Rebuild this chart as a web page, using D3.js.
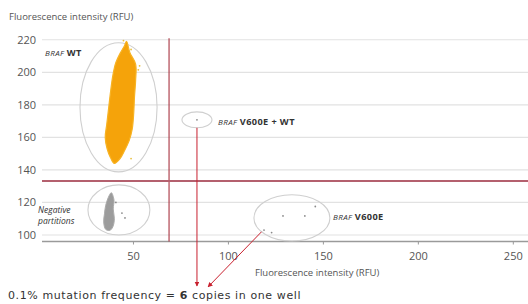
<!DOCTYPE html>
<html>
<head>
<meta charset="utf-8">
<script src="https://cdn.jsdelivr.net/npm/d3@7"></script>
<style>
  body { margin: 0; background: #fff; }
  svg { display: block; font-family: "Open Sans", sans-serif; }
</style>
</head>
<body>
<svg width="528" height="304"></svg>
<script>
// tick values
const xTicks = [50, 100, 150, 200, 250];
const yTicks = [100, 120, 140, 160, 180, 200, 220];

// dense clusters, read as outlines (RFU ch1, RFU ch2)
const wtOutline = [[46.6,219],[48.4,212],[51.4,205],[51.4,195],[50.8,185],[50.4,175],[49.6,165],[48,158],[45.6,152],
  [43.2,147],[40.2,144],[38.2,147.5],[36.4,153],[35.4,160],[36.2,168],[37.2,178],[38.2,188],[39.4,198],[41,206],[43.4,212],[45.4,216]];
const negOutline = [[38.6,126],[40,121.5],[39.6,116],[40.2,110],[39.4,105],[37.8,102.8],[35.6,103.5],[34.6,108],
  [35,113],[35.6,118],[37,123]];

// sparse droplets
const wtStray = [[52.8,201.5],[49,214],[53.5,204],[45,219.5],[49,147]];
const negStray = [[44.2,113.5],[45.8,110.5],[41,120]];
const mixedPoints = [[83.7,170.8]];
const mutPoints = [[129,111.7],[140.5,111.7],[146,117.5],[123,101.5],[119,103]];

// thresholds
const thresholdX = 69;
const thresholdY = 133.2;

// rings round each cluster (centre, radii in RFU)
const clusterRings = [
  {cx: 42.4, cy: 178.5, rx: 20.3, ry: 39.7},
  {cx: 42.6, cy: 115.4, rx: 16.3, ry: 15.4},
  {cx: 83.7, cy: 170.8, rx: 7.9, ry: 4.9},
  {cx: 133.7, cy: 110.5, rx: 20, ry: 14.2}
];

const svg = d3.select("svg");
const x = d3.scaleLinear().domain([0, 258]).range([38, 528]);
const y = d3.scaleLinear().domain([96, 226]).range([241.5, 30]);

// grid
svg.append("g").selectAll("line")
  .data(yTicks)
  .join("line")
  .attr("x1", 42).attr("x2", 528)
  .attr("y1", d => y(d)).attr("y2", d => y(d))
  .attr("stroke", "#e2e2e2").attr("stroke-width", 1.2);

// y labels
svg.append("g").selectAll("text")
  .data(yTicks)
  .join("text")
  .attr("x", 36).attr("y", d => y(d) + 4)
  .attr("text-anchor", "end")
  .attr("font-size", 11).attr("fill", "#555")
  .text(d => d);

// x axis
const xAxis = svg.append("g")
  .attr("transform", "translate(0," + y(96) + ")")
  .call(d3.axisBottom(x).tickValues(xTicks).tickSize(3).tickPadding(8));
xAxis.select(".domain").attr("stroke", "#9a9a9a").attr("stroke-width", 1.6)
  .attr("d", "M42,0H528");
xAxis.selectAll(".tick line").attr("stroke", "#999");
xAxis.selectAll(".tick text").attr("font-size", 11).attr("fill", "#555")
  .attr("font-family", "Open Sans, sans-serif");

svg.append("text")
  .attr("x", 255).attr("y", 276)
  .attr("font-size", 9.5).attr("fill", "#555")
  .text("Fluorescence intensity (RFU)");
svg.append("text")
  .attr("x", 9).attr("y", 20)
  .attr("font-size", 9.5).attr("fill", "#555")
  .text("Fluorescence intensity (RFU)");

// thresholds
svg.append("line")
  .attr("x1", x(thresholdX)).attr("x2", x(thresholdX))
  .attr("y1", y(221)).attr("y2", y(96))
  .attr("stroke", "#a8323f").attr("stroke-width", 1.1);
svg.append("line")
  .attr("x1", 42).attr("x2", 528)
  .attr("y1", y(thresholdY)).attr("y2", y(thresholdY))
  .attr("stroke", "#b4606e").attr("stroke-width", 1.8);

// rings
svg.append("g").selectAll("ellipse")
  .data(clusterRings)
  .join("ellipse")
  .attr("cx", d => x(d.cx)).attr("cy", d => y(d.cy))
  .attr("rx", d => x(d.cx + d.rx) - x(d.cx))
  .attr("ry", d => y(d.cy) - y(d.cy + d.ry))
  .attr("fill", "none").attr("stroke", "#cfcfcf").attr("stroke-width", 1.1);

// clusters
const outline = d3.line().x(d => x(d[0])).y(d => y(d[1])).curve(d3.curveCatmullRomClosed);
svg.append("path").datum(wtOutline).attr("d", outline)
  .attr("fill", "#f5a30a").attr("stroke", "#f7b324").attr("stroke-width", 1.2);
svg.append("path").datum(negOutline).attr("d", outline)
  .attr("fill", "#9c9c9c").attr("stroke", "#ababab").attr("stroke-width", 1);

svg.append("g").selectAll("circle")
  .data(wtStray)
  .join("circle")
  .attr("cx", d => x(d[0])).attr("cy", d => y(d[1])).attr("r", 0.9)
  .attr("fill", "#e8c040");
svg.append("g").selectAll("circle")
  .data(negStray.concat(mixedPoints, mutPoints))
  .join("circle")
  .attr("cx", d => x(d[0])).attr("cy", d => y(d[1])).attr("r", 0.9)
  .attr("fill", "#8a8a8a");

// labels
function label(px, py, rest) {
  const t = svg.append("text").attr("x", px).attr("y", py)
    .attr("font-size", 9.2).attr("fill", "#333").attr("letter-spacing", 0.4);
  t.append("tspan").attr("font-style", "italic").attr("font-size", 8).text("BRAF ");
  t.append("tspan").attr("font-weight", "bold").text(rest);
}
label(45, 56, "WT");
label(218, 125, "V600E + WT");
label(333, 220, "V600E");

svg.append("text").attr("x", 38).attr("y", 213)
  .attr("font-size", 8.5).attr("fill", "#333").attr("font-style", "italic")
  .selectAll("tspan")
  .data(["Negative", "partitions"])
  .join("tspan")
  .attr("x", 38).attr("dy", (d, i) => i ? 11 : 0)
  .text(d => d);

// arrows
svg.append("defs").append("marker")
  .attr("id", "head").attr("viewBox", "0 0 10 10")
  .attr("refX", 9).attr("refY", 5)
  .attr("markerWidth", 5).attr("markerHeight", 5)
  .attr("orient", "auto")
  .append("path").attr("d", "M0,0L10,5L0,10z").attr("fill", "#c8202e");

const ring2 = clusterRings[2], ring3 = clusterRings[3];
svg.append("line")
  .attr("x1", x(ring2.cx)).attr("y1", y(ring2.cy - ring2.ry))
  .attr("x2", x(ring2.cx)).attr("y2", 286)
  .attr("stroke", "#c8202e").attr("stroke-width", 1)
  .attr("marker-end", "url(#head)");
svg.append("line")
  .attr("x1", x(ring3.cx - ring3.rx * 0.8)).attr("y1", y(ring3.cy - ring3.ry * 0.6))
  .attr("x2", 208).attr("y2", 287)
  .attr("stroke", "#c8202e").attr("stroke-width", 1)
  .attr("marker-end", "url(#head)");

// bottom note
const note = svg.append("text").attr("x", 8).attr("y", 299)
  .attr("font-size", 11).attr("fill", "#333").attr("letter-spacing", 0.6)
  .attr("font-family", "DejaVu Sans, sans-serif");
note.append("tspan").text("0.1% mutation frequency = ");
note.append("tspan").attr("font-weight", "bold").text("6");
note.append("tspan").text(" copies in one well");
</script>
</body>
</html>
